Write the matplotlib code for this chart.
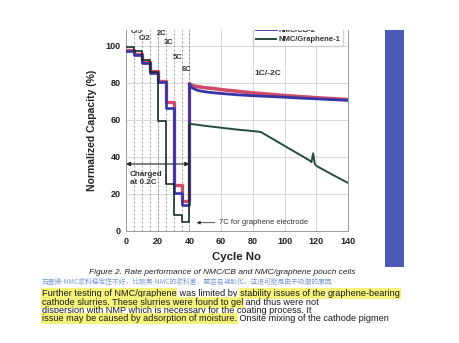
import matplotlib
matplotlib.use("Agg")
import matplotlib.pyplot as plt
from matplotlib.patches import Rectangle
from matplotlib.text import Annotation

# ---------------- data ----------------
rate_block_start = [0, 5, 10, 15, 20, 25, 30, 35]
cb1_rate = [97.8, 95.6, 91.5, 86.5, 81.0, 69.5, 24.8, 16.2]
cb2_rate = [97.0, 95.0, 90.8, 85.5, 80.3, 66.5, 20.5, 14.0]
gr_rate = [99.5, 97.2, 92.6, 86.0, 59.2, 25.3, 8.8, 5.0]

lt_cycles = [40, 41, 42, 44, 46, 50, 55, 60, 70, 80, 90, 100, 110, 120, 130, 140]
cb1_lt = [79.5, 79.0, 78.6, 78.2, 77.9, 77.4, 77.0, 76.4, 75.5, 74.6, 73.9, 73.2, 72.6, 72.0, 71.5, 71.0]
cb2_lt = [79.5, 78.0, 77.2, 76.4, 75.8, 75.2, 74.7, 74.3, 73.6, 73.1, 72.7, 72.3, 71.8, 71.4, 71.0, 70.6]

gr_cycles = [40, 41, 45, 50, 60, 70, 80, 85, 90, 100, 110, 116, 117, 118, 119, 120, 130, 140]
gr_lt = [58.0, 57.8, 57.4, 56.8, 55.8, 54.8, 54.0, 53.5, 51.0, 46.0, 41.0, 38.0, 37.2, 42.0, 36.4, 35.2, 30.5, 26.0]

rate_labels = ["C/5", "C/2", "2C", "3C", "5C", "6C"]
rate_label_x = [6.9, 12.0, 22.7, 27.1, 32.2, 38.5]
rate_label_y = [107.6, 103.8, 106.5, 101.6, 94.0, 87.0]
dash_cycles = [5, 10, 15, 20, 25, 30, 35, 40]

xticks = [0, 20, 40, 60, 80, 100, 120, 140]
yticks = [0, 20, 40, 60, 80, 100]

c_red = "#d24a6a"
c_blue = "#3535a5"
c_green = "#244d3a"

FONT = "Liberation Sans"

fig = plt.figure(figsize=(4.59, 3.43), dpi=100)
fig.patch.set_facecolor("white")
ax = fig.add_axes([126 / 459, 1 - 231 / 343, 222 / 459, 201 / 343])

ax.set_xlim(0, 140)
ax.set_ylim(0, 108.6)
ax.set_xticks(xticks)
ax.set_yticks(yticks)
ax.grid(True, color="#d2d2d2", lw=0.6)
ax.set_axisbelow(True)
ax.tick_params(length=0, pad=4, labelsize=6.5)
for lab in ax.get_xticklabels() + ax.get_yticklabels():
    lab.set_fontweight("bold")
    lab.set_family(FONT)
    lab.set_color("#222222")
for s in ax.spines.values():
    s.set_color("#9a9a9a")
    s.set_linewidth(0.7)
ax.spines["top"].set_visible(False)

for c in dash_cycles:
    ax.axvline(c, color="#8a8a8a", lw=0.6, ls=(0, (2.2, 2.6)), zorder=1)

# step (rate) parts
ax.step(rate_block_start + [40], cb1_rate + [cb1_lt[0]], where="post", color=c_red, lw=2.4, zorder=3)
ax.step(rate_block_start + [40], cb2_rate + [cb2_lt[0]], where="post", color=c_blue, lw=1.9, zorder=4)
ax.step(rate_block_start + [40], gr_rate + [gr_lt[0]], where="post", color="#1c2e26", lw=1.2, zorder=5)
# long-term cycling
ax.plot(lt_cycles, cb1_lt, color=c_red, lw=2.6, zorder=3, solid_capstyle="butt")
l_cb2, = ax.plot(lt_cycles, cb2_lt, color=c_blue, lw=2.0, zorder=4, label="NMC/CB-2")
l_gr, = ax.plot(gr_cycles, gr_lt, color=c_green, lw=1.4, zorder=5, label="NMC/Graphene-1")

for t, x, y in zip(rate_labels, rate_label_x, rate_label_y):
    ax.text(x, y, t, ha="center", va="center", fontsize=5.5, fontweight="bold",
            family=FONT, color="#333333", zorder=6)

ax.text(89.5, 84.9, "1C/-2C", ha="center", va="center", fontsize=6, fontweight="bold",
        family=FONT, color="#333333")
ax.text(2.5, 28.4, "Charged\nat 0.2C", ha="left", va="center", fontsize=5.8, fontweight="bold",
        family=FONT, color="#333333", linespacing=1.1)
ax.annotate("", xy=(0, 36.2), xytext=(40, 36.2),
            arrowprops=dict(arrowstyle="<|-|>", color="#222222", lw=0.8,
                            mutation_scale=6, shrinkA=0, shrinkB=0))
ax.annotate("7C for graphene electrode", xy=(44.5, 4.5), xytext=(58.6, 4.5),
            ha="left", va="center", fontsize=5.5, family=FONT, color="#333333",
            arrowprops=dict(arrowstyle="-|>", color="#333333", lw=0.6,
                            mutation_scale=5, shrinkA=1, shrinkB=0))

leg = ax.legend(handles=[l_cb2, l_gr], loc="lower right", bbox_to_anchor=(0.995, 0.9),
                fontsize=5.5, frameon=True, fancybox=False, edgecolor="#c8c8c8",
                handlelength=2.6, borderpad=0.4, labelspacing=0.3, handletextpad=0.3)
for txt in leg.get_texts():
    txt.set_fontweight("bold")
    txt.set_family(FONT)
    txt.set_color("#333333")

ax.set_ylabel("Normalized Capacity (%)", fontsize=7.5, fontweight="bold", family=FONT,
              color="#222222", labelpad=6)
ax.set_xlabel("Cycle No", fontsize=8.2, fontweight="bold", family=FONT, color="#222222",
              labelpad=5)

# crop mask at the top (chart cut off in the reference)
fig.add_artist(Rectangle((0, 1 - 30 / 343), 1, 30 / 343, transform=fig.transFigure,
                         facecolor="white", edgecolor="none", zorder=10))
# decorative blue bar
fig.add_artist(Rectangle((385 / 459, 1 - 267 / 343), 19 / 459, 237 / 343,
                         transform=fig.transFigure, facecolor="#4a5ab6",
                         edgecolor="none", zorder=11))

# caption and text
fig.text(222 / 459, 1 - 272.3 / 343, "Figure 2. Rate performance of NMC/CB and NMC/graphene pouch cells",
         ha="center", va="center", fontsize=6, style="italic", family=FONT, color="#222222")
fig.text(42 / 459, 1 - 281.7 / 343,
         "石墨烯-NMC浆料稳定性不好，比碳黑-NMC的浆料差，更容易凝胶化，这很可能是由于吸潮的原因",
         ha="left", va="center", fontsize=4.9, family=["Noto Sans CJK SC", "DejaVu Sans"],
         color="#7b9ad2")

body_lines = [
    [("Further testing of NMC/graphene", True), (" was limited by ", False),
     ("stability issues of the", True), (" ", False), ("graphene-bearing", True)],
    [("cathode slurries. These slurries were found to gel", True), (" and thus were not", False)],
    [("dispersion with NMP which is necessary for the coating process. It", False)],
    [("issue may be caused by adsorption of moisture.", True),
     (" Onsite mixing of the cathode pigmen", False)],
]
body_y = [293.3, 302.7, 310.7, 318.7]

for pieces, yc in zip(body_lines, body_y):
    prev = None
    for txt, hl in pieces:
        kw = dict(fontsize=6.55, family=FONT, color="#1a1a1a", va="center", ha="left")
        if hl:
            kw["bbox"] = dict(boxstyle="square,pad=0.08", fc="#f6f27a", ec="none")
        if prev is None:
            prev = fig.text(42 / 459, 1 - yc / 343, txt, **kw)
        else:
            ann = Annotation(txt, xy=(1, 0.5), xycoords=prev, **kw)
            fig.add_artist(ann)
            prev = ann

fig.savefig("out.png", dpi=100, facecolor="white")
